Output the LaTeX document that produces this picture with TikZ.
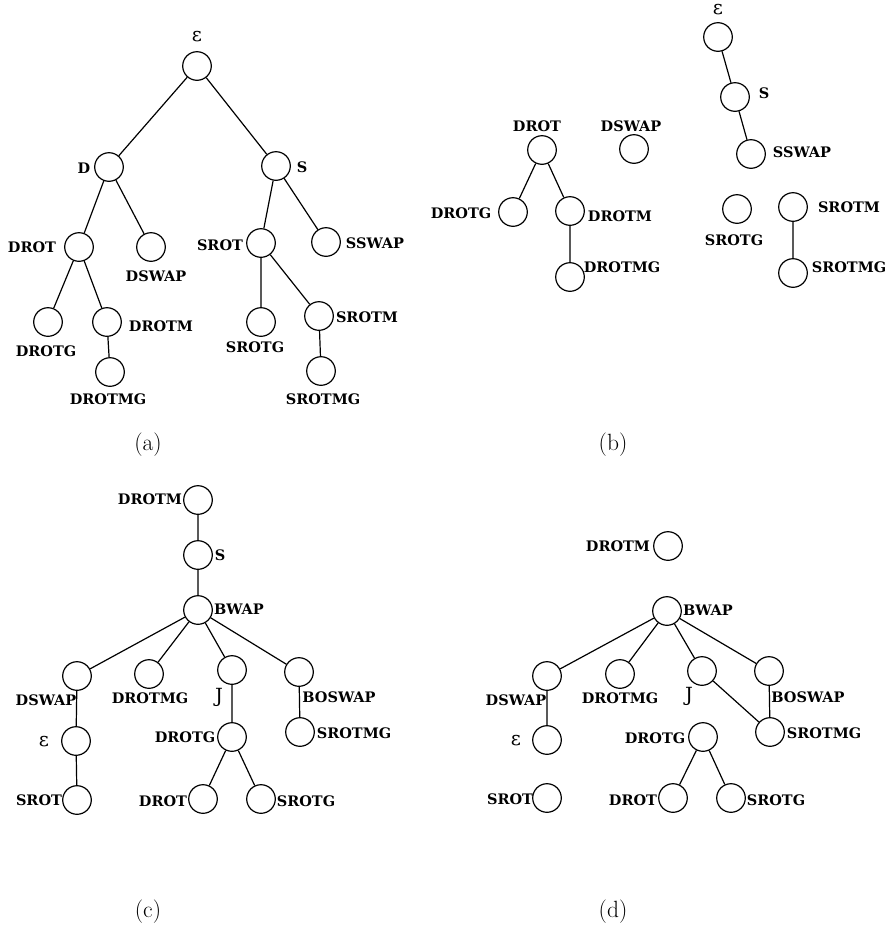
\documentclass[tikz,border=0pt]{standalone}
\usepackage{fontspec}
\newfontfamily\lblfont{DejaVu Serif}
\begin{document}
\begin{tikzpicture}[x=1pt,y=-1pt,
  vtx/.style={circle,draw,line width=1.2pt,minimum size=28.6pt,inner sep=0pt},
  lbl/.style={font=\lblfont\bfseries\fontsize{14.5}{16}\selectfont,inner sep=0pt},
  sym/.style={font=\lblfont\fontsize{19.5}{21}\selectfont,inner sep=0pt},
  captxt/.style={font=\fontsize{23.5}{27}\selectfont,inner sep=0pt},
  conn/.style={line width=1.2pt}]
\useasboundingbox (0,0) rectangle (886,932);
% ---------- (a)
\node[vtx] (aE) at (197,66) {};
\node[vtx] (aD) at (109,167) {};
\node[vtx] (aS) at (276,166) {};
\node[vtx] (aDROT) at (79,247) {};
\node[vtx] (aDSWAP) at (151,247) {};
\node[vtx] (aSROT) at (261,243) {};
\node[vtx] (aSSWAP) at (326,242) {};
\node[vtx] (aDROTG) at (48,322) {};
\node[vtx] (aDROTM) at (107,322) {};
\node[vtx] (aDROTMG) at (110,372) {};
\node[vtx] (aSROTG) at (261,322) {};
\node[vtx] (aSROTM) at (319,316) {};
\node[vtx] (aSROTMG) at (321,371) {};
\draw[conn] (aE)--(aD) (aE)--(aS) (aD)--(aDROT) (aD)--(aDSWAP)
  (aS)--(aSROT) (aS)--(aSSWAP) (aDROT)--(aDROTG) (aDROT)--(aDROTM)
  (aDROTM)--(aDROTMG) (aSROT)--(aSROTG) (aSROT)--(aSROTM) (aSROTM)--(aSROTMG);
\node[sym] (laE) at (197,37) {ε};
\node[lbl] (laD) at (84,168) {D};
\node[lbl] (laS) at (302,167) {S};
\node[lbl] (laDROT) at (32,247) {DROT};
\node[lbl] (laDSWAP) at (156,276) {DSWAP};
\node[lbl] (laSROT) at (220,245) {SROT};
\node[lbl] (laSSWAP) at (375,243) {SSWAP};
\node[lbl] (laDROTG) at (46,351) {DROTG};
\node[lbl] (laDROTM) at (161,326) {DROTM};
\node[lbl] (laDROTMG) at (108,399) {DROTMG};
\node[lbl] (laSROTG) at (255,347) {SROTG};
\node[lbl] (laSROTM) at (367,317) {SROTM};
\node[lbl] (laSROTMG) at (323,399) {SROTMG};
\node[captxt] (capa) at (148,445) {(a)};
% ---------- (b)
\node[vtx] (bE) at (718,37) {};
\node[vtx] (bS) at (735,97) {};
\node[vtx] (bSSWAP) at (751,154) {};
\node[vtx] (bDROT) at (542,150) {};
\node[vtx] (bDSWAP) at (634,149) {};
\node[vtx] (bDROTG) at (513,212) {};
\node[vtx] (bDROTM) at (570,211) {};
\node[vtx] (bDROTMG) at (570,277) {};
\node[vtx] (bSROTG) at (737,209) {};
\node[vtx] (bSROTM) at (793,207) {};
\node[vtx] (bSROTMG) at (793,273) {};
\draw[conn] (bE)--(bS) (bS)--(bSSWAP) (bDROT)--(bDROTG) (bDROT)--(bDROTM)
  (bDROTM)--(bDROTMG) (bSROTM)--(bSROTMG);
\node[sym] (lbE) at (718,10) {ε};
\node[lbl] (lbS) at (764,93) {S};
\node[lbl] (lbSSWAP) at (802,152) {SSWAP};
\node[lbl] (lbDROT) at (537,126) {DROT};
\node[lbl] (lbDSWAP) at (631,126) {DSWAP};
\node[lbl] (lbDROTG) at (461,213) {DROTG};
\node[lbl] (lbDROTM) at (620,216) {DROTM};
\node[lbl] (lbDROTMG) at (622,267) {DROTMG};
\node[lbl] (lbSROTG) at (734,240) {SROTG};
\node[lbl] (lbSROTM) at (849,207) {SROTM};
\node[lbl] (lbSROTMG) at (849,267) {SROTMG};
\node[captxt] (capb) at (613,445) {(b)};
% ---------- (c)
\node[vtx] (cDROTM) at (198,500) {};
\node[vtx] (cS) at (198,555) {};
\node[vtx] (cBWAP) at (198,610) {};
\node[vtx] (cDSWAP) at (77,676) {};
\node[vtx] (cDROTMG) at (149,674) {};
\node[vtx] (cJ) at (232,670) {};
\node[vtx] (cBOSWAP) at (299,672) {};
\node[vtx] (cE) at (76,741) {};
\node[vtx] (cDROTG) at (232,737) {};
\node[vtx] (cSROTMG) at (300,732) {};
\node[vtx] (cSROT) at (77,800) {};
\node[vtx] (cDROT) at (203,799) {};
\node[vtx] (cSROTG) at (261,799) {};
\draw[conn] (cDROTM)--(cS) (cS)--(cBWAP) (cBWAP)--(cDSWAP) (cBWAP)--(cDROTMG)
  (cBWAP)--(cJ) (cBWAP)--(cBOSWAP) (cDSWAP)--(cE) (cE)--(cSROT)
  (cJ)--(cDROTG) (cDROTG)--(cDROT) (cDROTG)--(cSROTG) (cBOSWAP)--(cSROTMG);
\node[lbl] (lcDROTM) at (150,499) {DROTM};
\node[lbl] (lcS) at (220,555) {S};
\node[lbl] (lcBWAP) at (239,609) {BWAP};
\node[lbl] (lcDSWAP) at (46,700) {DSWAP};
\node[lbl] (lcDROTMG) at (150,698) {DROTMG};
\node[sym] (lcJ) at (219,697) {J};
\node[lbl] (lcBOSWAP) at (339,697) {BOSWAP};
\node[sym] (lcE) at (44,742) {ε};
\node[lbl] (lcDROTG) at (185,737) {DROTG};
\node[lbl] (lcSROTMG) at (354,733) {SROTMG};
\node[lbl] (lcSROT) at (39,800) {SROT};
\node[lbl] (lcDROT) at (163,801) {DROT};
\node[lbl] (lcSROTG) at (306,801) {SROTG};
\node[captxt] (capc) at (148,912) {(c)};
% ---------- (d)
\node[vtx] (dDROTM) at (668,546) {};
\node[vtx] (dBWAP) at (667,611) {};
\node[vtx] (dDSWAP) at (547,676) {};
\node[vtx] (dDROTMG) at (620,674) {};
\node[vtx] (dJ) at (702,671) {};
\node[vtx] (dBOSWAP) at (769,671) {};
\node[vtx] (dE) at (547,740) {};
\node[vtx] (dDROTG) at (703,737) {};
\node[vtx] (dSROTMG) at (770,732) {};
\node[vtx] (dSROT) at (547,798) {};
\node[vtx] (dDROT) at (673,798) {};
\node[vtx] (dSROTG) at (731,798) {};
\draw[conn] (dBWAP)--(dDSWAP) (dBWAP)--(dDROTMG) (dBWAP)--(dJ) (dBWAP)--(dBOSWAP)
  (dDSWAP)--(dE) (dJ)--(dSROTMG) (dBOSWAP)--(dSROTMG)
  (dDROTG)--(dDROT) (dDROTG)--(dSROTG);
\node[lbl] (ldDROTM) at (618,546) {DROTM};
\node[lbl] (ldBWAP) at (708,610) {BWAP};
\node[lbl] (ldDSWAP) at (516,700) {DSWAP};
\node[lbl] (ldDROTMG) at (620,698) {DROTMG};
\node[sym] (ldJ) at (689,696) {J};
\node[lbl] (ldBOSWAP) at (808,697) {BOSWAP};
\node[sym] (ldE) at (516,741) {ε};
\node[lbl] (ldDROTG) at (655,738) {DROTG};
\node[lbl] (ldSROTMG) at (824,733) {SROTMG};
\node[lbl] (ldSROT) at (510,799) {SROT};
\node[lbl] (ldDROT) at (633,800) {DROT};
\node[lbl] (ldSROTG) at (776,800) {SROTG};
\node[captxt] (capd) at (613,912) {(d)};
\end{tikzpicture}
\end{document}
